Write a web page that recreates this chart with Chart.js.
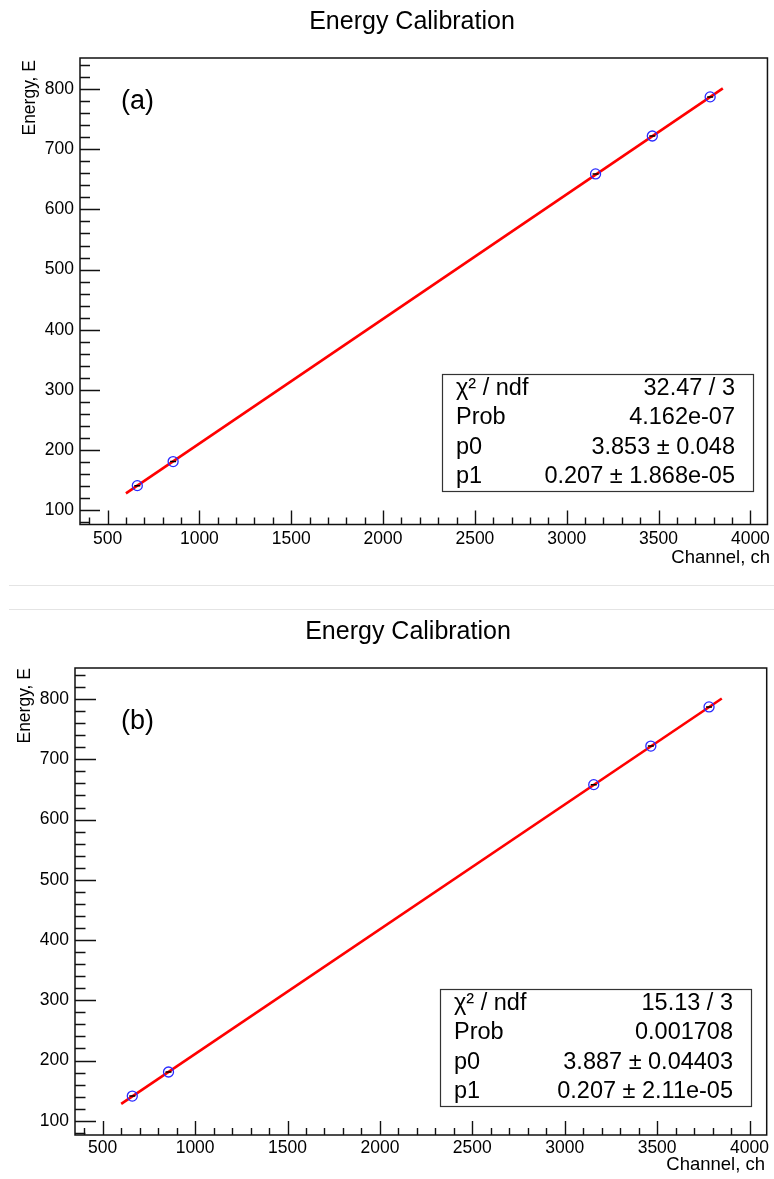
<!DOCTYPE html>
<html>
<head>
<meta charset="utf-8">
<script src="https://cdn.jsdelivr.net/npm/chart.js@4.4.1/dist/chart.umd.min.js"></script>
<style>
  html, body { margin: 0; padding: 0; background: #fff; }
  body { width: 774px; height: 1179px; position: relative; overflow: hidden; }
  canvas { position: absolute; left: 0; }
  .sep { position: absolute; left: 9px; right: 0; height: 1px; background: #e4e4e4; }
</style>
</head>
<body>
<canvas id="calA" width="774" height="585" style="top:0"></canvas>
<div class="sep" style="top:585px"></div>
<div class="sep" style="top:609px"></div>
<canvas id="calB" width="774" height="589" style="top:590px"></canvas>
<script>
// measured peaks: channel vs energy
const channelA = [662, 857, 3157, 3466, 3781];
const energyA  = [141, 181, 659, 722, 787];
const channelB = [660, 856, 3157, 3466, 3781];
const energyB  = [141, 181, 658, 722, 787];

// fit line end points
const fitXA = [600, 3850];
const fitYA = [128, 801];
const fitXB = [600, 3850];
const fitYB = [128, 801];

const xTicks = [500, 1000, 1500, 2000, 2500, 3000, 3500, 4000];
const yTicks = [100, 200, 300, 400, 500, 600, 700, 800];

const statNames = ['χ² / ndf', 'Prob', 'p0', 'p1'];
const statsA = ['32.47 / 3', '4.162e-07', '3.853 ± 0.048', '0.207 ± 1.868e-05'];
const statsB = ['15.13 / 3', '0.001708', '3.887 ± 0.04403', '0.207 ± 2.11e-05'];

const FONT = '"Liberation Sans", Arial, Helvetica, sans-serif';

function pairs(xs, ys) {
  return xs.map((x, i) => ({ x: x, y: ys[i] }));
}

// frame, inside ticks, titles and stats box, ROOT style
function rootLook(look) {
  return {
    id: 'rootLook',
    afterDraw(chart) {
      const ctx = chart.ctx, a = chart.chartArea;
      const xs = chart.scales.x, ys = chart.scales.y;
      ctx.save();
      ctx.strokeStyle = '#111';
      ctx.lineWidth = 1.5;
      ctx.strokeRect(a.left, a.top, a.right - a.left, a.bottom - a.top);

      ctx.lineWidth = 1.4;
      ctx.beginPath();
      for (let v = Math.ceil(xs.min / 100) * 100; v <= xs.max; v += 100) {
        const px = Math.round(xs.getPixelForValue(v)) + 0.5;
        const len = xTicks.includes(v) ? look.xMajor : look.xMajor / 2;
        ctx.moveTo(px, a.bottom);
        ctx.lineTo(px, a.bottom - len);
      }
      for (let v = Math.ceil(ys.min / 20) * 20; v <= ys.max; v += 20) {
        const py = Math.round(ys.getPixelForValue(v)) + 0.5;
        const len = yTicks.includes(v) ? look.yMajor : look.yMajor / 2;
        ctx.moveTo(a.left, py);
        ctx.lineTo(a.left + len, py);
      }
      ctx.stroke();

      ctx.fillStyle = '#000';
      // title
      ctx.font = '25px ' + FONT;
      ctx.textAlign = 'center';
      ctx.textBaseline = 'alphabetic';
      ctx.fillText('Energy Calibration', look.titleX, look.titleY);

      // axis titles
      ctx.font = '18.5px ' + FONT;
      ctx.textAlign = 'right';
      ctx.fillText('Channel, ch', look.xTitleX, look.xTitleY);
      ctx.font = '17.5px ' + FONT;
      ctx.save();
      ctx.translate(look.yTitleX, look.yTitleY);
      ctx.rotate(-Math.PI / 2);
      ctx.textBaseline = 'middle';
      ctx.fillText('Energy, E', 0, 0);
      ctx.restore();

      // panel tag
      ctx.font = '27px ' + FONT;
      ctx.textAlign = 'left';
      ctx.textBaseline = 'middle';
      ctx.fillText(look.tag, look.tagX, look.tagY);

      // stats box
      const b = look.box;
      ctx.fillStyle = '#fff';
      ctx.fillRect(b.x, b.y, b.w, b.h);
      ctx.strokeStyle = '#333';
      ctx.lineWidth = 1.2;
      ctx.strokeRect(b.x + 0.5, b.y + 0.5, b.w, b.h);
      ctx.fillStyle = '#000';
      ctx.font = '23.5px ' + FONT;
      const rowH = b.h / statNames.length;
      statNames.forEach((name, i) => {
        const cy = b.y + rowH * (i + 0.5);
        ctx.textAlign = 'left';
        ctx.fillText(name, b.x + 14, cy);
        ctx.textAlign = 'right';
        ctx.fillText(look.stats[i], b.x + b.w - 18, cy);
      });
      ctx.restore();
    }
  };
}

function makeChart(id, pts, fit, look) {
  const tickFont = { family: FONT, size: 17.5 };
  return new Chart(document.getElementById(id), {
    type: 'scatter',
    data: {
      datasets: [
        { data: pts, pointStyle: 'line', pointRadius: 3, borderColor: '#000', borderWidth: 1.5, order: 0 },
        { data: pts, pointStyle: 'circle', pointRadius: 5, borderColor: '#2a2aff',
          backgroundColor: 'rgba(0,0,0,0)', borderWidth: 1.3, order: 1 },
        { data: fit, showLine: true, pointRadius: 0, borderColor: '#ff0000', borderWidth: 2.6, order: 2 }
      ]
    },
    options: {
      responsive: false,
      animation: false,
      layout: { padding: { top: look.top, right: look.right, left: 0, bottom: 0 } },
      plugins: { legend: { display: false }, tooltip: { enabled: false } },
      scales: {
        x: {
          type: 'linear', min: 350, max: 4093,
          afterBuildTicks: s => { s.ticks = xTicks.map(v => ({ value: v })); },
          afterFit: s => { s.height = look.xAxisH; },
          grid: { display: false, drawTicks: false },
          border: { display: false },
          ticks: { padding: look.xPad, font: tickFont, color: '#000', maxRotation: 0, autoSkip: false,
                   callback: v => String(v) }
        },
        y: {
          type: 'linear', min: 76.4, max: 851.6,
          afterBuildTicks: s => { s.ticks = yTicks.map(v => ({ value: v })); },
          afterFit: s => { s.width = look.left; },
          grid: { display: false, drawTicks: false },
          border: { display: false },
          ticks: { padding: 6, font: tickFont, color: '#000', autoSkip: false,
                   callback: v => String(v) }
        }
      }
    },
    plugins: [rootLook(look)]
  });
}

makeChart('calA', pairs(channelA, energyA), pairs(fitXA, fitYA), {
  top: 58, right: 4, left: 80, xAxisH: 60.5, xPad: 4,
  xMajor: 14, yMajor: 20,
  titleX: 412, titleY: 29,
  xTitleX: 770, xTitleY: 563,
  yTitleX: 30, yTitleY: 60,
  tag: '(a)', tagX: 121, tagY: 102,
  box: { x: 442, y: 374, w: 311, h: 117 },
  stats: statsA
});

makeChart('calB', pairs(channelB, energyB), pairs(fitXB, fitYB), {
  top: 78, right: 7.3, left: 75, xAxisH: 44, xPad: 3,
  xMajor: 14, yMajor: 21,
  titleX: 408, titleY: 48.5,
  xTitleX: 765, xTitleY: 580,
  yTitleX: 25, yTitleY: 78,
  tag: '(b)', tagX: 121, tagY: 132,
  box: { x: 440, y: 399, w: 311, h: 117 },
  stats: statsB
});
</script>
</body>
</html>
